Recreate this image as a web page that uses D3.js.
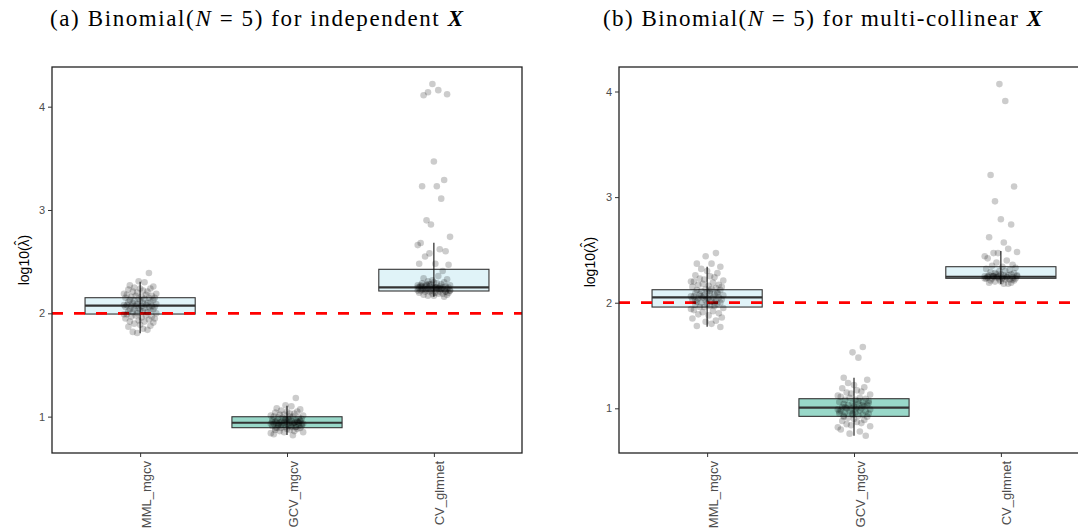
<!DOCTYPE html>
<html>
<head>
<meta charset="utf-8">
<script src="https://cdn.jsdelivr.net/npm/d3@7"></script>
<style>
body{margin:0;background:#fff}
.tick text{font-family:'Liberation Sans',Arial,sans-serif}
</style>
</head>
<body>
<div id="chart"></div>
<script>
const methods=['MML_mgcv','GCV_mgcv','CV_glmnet']
const yTicks=[1,2,3,4]
const refValue=2

// box statistics (q1, median, q3, whisker ends) per method
const aQ1=[1.993,0.893,2.216], aMed=[2.074,0.941,2.252], aQ3=[2.151,0.999,2.426]
const aLo=[1.806,0.822,2.160], aHi=[2.306,1.105,2.683]
const bQ1=[1.959,0.924,2.231], bMed=[2.051,1.006,2.246], bQ3=[2.123,1.091,2.341]
const bLo=[1.773,0.741,2.177], bHi=[2.341,1.290,2.490]

// jittered points, log10(lambda hat)
const aMML=[2.39,2.31,2.30,2.27,2.26,2.25,2.24,2.24,2.23,2.22,2.21,2.21,2.20,2.19,2.19,2.18,2.18,2.17,2.17,2.16,2.16,2.15,2.15,2.15,2.14,2.14,2.13,2.13,2.12,2.12,2.11,2.11,2.10,2.10,2.10,2.09,2.09,2.08,2.08,2.08,2.07,2.07,2.07,2.07,2.06,2.06,2.06,2.05,2.05,2.04,2.04,2.04,2.03,2.03,2.02,2.02,2.01,2.01,2.00,2.00,1.99,1.99,1.98,1.98,1.97,1.97,1.96,1.95,1.95,1.94,1.93,1.92,1.92,1.91,1.90,1.89,1.88,1.87,1.85,1.84,1.82,1.81]
const aGCV=[1.18,1.11,1.10,1.08,1.07,1.06,1.05,1.05,1.04,1.03,1.03,1.02,1.02,1.01,1.01,1.00,1.00,0.99,0.99,0.99,0.98,0.98,0.97,0.97,0.97,0.96,0.96,0.96,0.95,0.95,0.95,0.95,0.94,0.94,0.94,0.94,0.93,0.93,0.93,0.93,0.92,0.92,0.92,0.91,0.91,0.91,0.90,0.90,0.90,0.89,0.89,0.89,0.88,0.88,0.87,0.87,0.86,0.86,0.85,0.85,0.84,0.83,0.82,0.96,0.94,0.92,0.97,0.93,0.95,0.90,0.98,0.91,0.94,0.96,0.92,0.93,0.95,0.89,1.00,0.94]
const aCV=[4.22,4.16,4.11,4.12,4.14,3.47,3.29,3.23,3.23,3.11,2.90,2.86,2.74,2.66,2.68,2.62,2.58,2.60,2.55,2.48,2.47,2.48,2.41,2.32,2.36,2.34,2.33,2.31,2.30,2.30,2.29,2.29,2.28,2.28,2.28,2.27,2.27,2.27,2.26,2.26,2.26,2.26,2.25,2.25,2.25,2.25,2.25,2.24,2.24,2.24,2.24,2.24,2.23,2.23,2.23,2.23,2.23,2.22,2.22,2.22,2.22,2.21,2.21,2.21,2.21,2.20,2.20,2.20,2.19,2.19,2.19,2.18,2.18,2.17,2.17,2.16,2.26,2.25,2.24,2.27,2.23,2.22,2.25,2.26,2.24,2.28,2.21,2.23,2.25]
const bMML=[2.47,2.44,2.37,2.37,2.34,2.32,2.30,2.28,2.26,2.25,2.24,2.23,2.22,2.21,2.20,2.20,2.19,2.18,2.17,2.17,2.16,2.15,2.15,2.14,2.13,2.13,2.12,2.12,2.11,2.10,2.10,2.09,2.09,2.08,2.08,2.07,2.07,2.06,2.06,2.05,2.05,2.05,2.04,2.04,2.03,2.03,2.02,2.02,2.01,2.01,2.00,2.00,1.99,1.99,1.98,1.97,1.97,1.96,1.96,1.95,1.94,1.93,1.92,1.91,1.90,1.89,1.88,1.86,1.85,1.83,1.82,1.80,1.78,1.77,2.06,2.04,2.09,2.02,2.11,2.00]
const bGCV=[1.58,1.53,1.48,1.29,1.27,1.24,1.22,1.20,1.19,1.17,1.16,1.15,1.14,1.13,1.12,1.11,1.10,1.10,1.09,1.08,1.08,1.07,1.06,1.06,1.05,1.04,1.04,1.03,1.03,1.02,1.02,1.01,1.01,1.00,1.00,1.00,0.99,0.99,0.98,0.98,0.97,0.97,0.96,0.96,0.95,0.95,0.94,0.94,0.93,0.93,0.92,0.91,0.90,0.89,0.88,0.87,0.86,0.85,0.84,0.83,0.82,0.80,0.78,0.76,0.74,1.01,0.99,1.05,0.97,1.03,0.95,1.07,0.92]
const bCV=[4.07,3.91,3.21,3.10,2.96,2.79,2.74,2.62,2.57,2.51,2.47,2.47,2.48,2.44,2.42,2.40,2.38,2.36,2.35,2.34,2.33,2.32,2.31,2.30,2.30,2.29,2.28,2.28,2.27,2.27,2.26,2.26,2.26,2.25,2.25,2.25,2.25,2.24,2.24,2.24,2.24,2.23,2.23,2.23,2.23,2.22,2.22,2.22,2.21,2.21,2.20,2.20,2.19,2.19,2.18,2.18,2.25,2.24,2.26,2.23,2.25,2.24,2.27,2.22,2.25,2.24]

const fills=['#e0f3f8','#99d8c9','#e0f3f8']
// horizontal jitter, fraction of the category step, cycled through
const jit=[-0.09,0.04,-0.03,0.08,-0.06,0.01,0.10,-0.10,0.06,-0.01,0.03,-0.07,0.09,-0.04,0.00,0.07,-0.08,0.02,0.05,-0.05,-0.02,0.11,-0.11]

const W=1078,H=529
const svg=d3.select('#chart').append('svg')
	.attr('width',W)
	.attr('height',H)
	.style('font-family',"'Liberation Sans',Arial,sans-serif")

function panel(o){
	const g=svg.append('g')
	const x=d3.scalePoint()
		.domain(methods)
		.range([o.left,o.left+470])
		.padding(0.6)
	const y=d3.scaleLinear()
		.domain(o.domain)
		.range([453,67])
	const step=x.step(), bw=step*0.75

	// title
	const t=g.append('text')
		.attr('x',o.titleX)
		.attr('y',26)
		.attr('text-anchor','middle')
		.style('font-family',"'Liberation Serif','Times New Roman',serif")
		.style('font-size','23px')
	t.append('tspan').text(o.tag+' Binomial(')
	t.append('tspan').attr('font-style','italic').text('N')
	t.append('tspan').text(' = 5) for '+o.word+' ')
	t.append('tspan').attr('font-style','italic').attr('font-weight','bold').text('X')
	const tw=t.node().getComputedTextLength()
	if(tw<o.titleW) t.attr('textLength',o.titleW).attr('lengthAdjust','spacing')

	const boxes=g.append('g')
	methods.forEach((m,i)=>{
		const cx=x(m)
		boxes.append('rect')
			.attr('x',cx-bw/2)
			.attr('y',y(o.q3[i]))
			.attr('width',bw)
			.attr('height',y(o.q1[i])-y(o.q3[i]))
			.attr('fill',fills[i])
			.attr('stroke','#333')
			.attr('stroke-width',1.1)
		boxes.append('line')
			.attr('x1',cx-bw/2).attr('x2',cx+bw/2)
			.attr('y1',y(o.med[i])).attr('y2',y(o.med[i]))
			.attr('stroke','#333')
			.attr('stroke-width',2.2)
		boxes.append('line')
			.attr('x1',cx).attr('x2',cx)
			.attr('y1',y(o.lo[i])).attr('y2',y(o.hi[i]))
			.attr('stroke','#111')
			.attr('stroke-width',1.1)
	})

	// reference line
	g.append('line')
		.attr('x1',o.left).attr('x2',o.left+470)
		.attr('y1',y(refValue)).attr('y2',y(refValue))
		.attr('stroke','#ff0000')
		.attr('stroke-width',2.7)
		.attr('stroke-dasharray','11,11')

	const pts=[]
	o.points.forEach((arr,i)=>arr.forEach((v,j)=>pts.push({m:methods[i],v,j})))
	g.append('g').selectAll('circle')
		.data(pts)
		.enter()
		.append('circle')
		.attr('cx',d=>x(d.m)+jit[(d.j+d.m.length)%jit.length]*step)
		.attr('cy',d=>y(d.v))
		.attr('r',3.3)
		.attr('fill','#000')
		.attr('fill-opacity',0.2)

	// border
	g.append('rect')
		.attr('x',o.left).attr('y',67)
		.attr('width',470).attr('height',386)
		.attr('fill','none')
		.attr('stroke','#222')
		.attr('stroke-width',1.3)

	const ya=g.append('g')
		.attr('transform',`translate(${o.left},0)`)
		.call(d3.axisLeft(y).tickValues(yTicks).tickSize(4).tickPadding(3).tickFormat(d3.format('d')))
	ya.select('.domain').remove()
	ya.selectAll('.tick line').attr('stroke','#333')
	ya.selectAll('.tick text').attr('fill','#4d4d4d').style('font-size','11px')

	const xa=g.append('g')
		.attr('transform','translate(0,453)')
		.call(d3.axisBottom(x).tickSize(4))
	xa.select('.domain').remove()
	xa.selectAll('.tick line').attr('stroke','#333')
	xa.selectAll('.tick text')
		.attr('fill','#4d4d4d')
		.style('font-size','13px')
		.attr('transform','rotate(-90)')
		.attr('text-anchor','end')
		.attr('x',-8)
		.attr('y',10)
		.attr('dy',0)

	// y title: log10(lambda) with a hat placed over the lambda
	const yl=g.append('text')
		.attr('transform',`translate(${o.ylabX},${o.ylabY}) rotate(-90)`)
		.attr('text-anchor','middle')
		.style('font-size','14px')
		.attr('fill','#000')
	yl.append('tspan').text('log10(')
	const lam=yl.append('tspan').text('\u03BB')
	const hat=yl.append('tspan').text('\u02C6').attr('dy','-0.32em')
	const close=yl.append('tspan').text(')').attr('dy','0.32em')
	const lw=lam.node().getComputedTextLength(), hw=hat.node().getComputedTextLength()
	hat.attr('dx',-(lw+hw)/2)
	close.attr('dx',(lw-hw)/2)
}

panel({left:52,domain:[0.648,4.384],q1:aQ1,med:aMed,q3:aQ3,lo:aLo,hi:aHi,
	points:[aMML,aGCV,aCV],tag:'(a)',word:'independent',titleX:256.5,titleW:413,ylabX:29,ylabY:260})
panel({left:619,domain:[0.577,4.232],q1:bQ1,med:bMed,q3:bQ3,lo:bLo,hi:bHi,
	points:[bMML,bGCV,bCV],tag:'(b)',word:'multi-collinear',titleX:822.5,titleW:439,ylabX:595,ylabY:262})
</script>
</body>
</html>
